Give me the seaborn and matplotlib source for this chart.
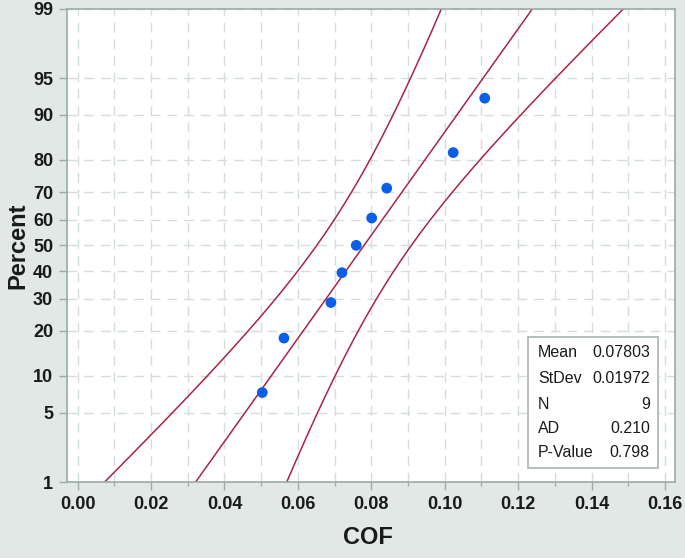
import numpy as np
import pandas as pd
import matplotlib
matplotlib.use("Agg")
import matplotlib.pyplot as plt
from matplotlib.patches import Rectangle
from matplotlib.ticker import MultipleLocator, FixedLocator
import seaborn as sns
from statistics import NormalDist

# data
cof = [0.0503, 0.0562, 0.0690, 0.0720, 0.0759, 0.0801, 0.0842, 0.1023, 0.1109]
percent = [7.4, 18.1, 28.7, 39.4, 50.0, 60.6, 71.3, 81.9, 92.6]
percent_ticks = [1, 5, 10, 20, 30, 40, 50, 60, 70, 80, 90, 95, 99]
stat_names = ["Mean", "StDev", "N", "AD", "P-Value"]
stat_values = ["0.07803", "0.01972", "9", "0.210", "0.798"]
mean, stdev, n = 0.07803, 0.01972, 9

ND = NormalDist()


def _inv(p):
    if not np.isfinite(p):
        return np.nan
    return ND.inv_cdf(min(max(p / 100.0, 1e-9), 1 - 1e-9))


def _cdf(z):
    if not np.isfinite(z):
        return np.nan
    return 100.0 * ND.cdf(z)


ppf = np.vectorize(_inv, otypes=[float])
cdf = np.vectorize(_cdf, otypes=[float])


def main():
    sns.set_theme(style="white")
    plt.rcParams["font.family"] = ["Liberation Sans", "DejaVu Sans"]

    fig = plt.figure(figsize=(6.85, 5.58), dpi=100, facecolor="#E1E8E6")
    ax = fig.add_axes([0.0978, 0.1362, 0.888, 0.8482])
    ax.set_facecolor("white")
    ax.set_yscale("function", functions=(ppf, cdf))

    # fitted line and 95% confidence bands
    z = np.linspace(-3, 3, 301)
    fit_x = mean + z * stdev
    se = stdev * np.sqrt(1.0 / n + z ** 2 / (2.0 * n))
    lines = pd.DataFrame({"z": z, "pct": cdf(z), "fit": fit_x,
                          "lo": fit_x - 1.96 * se, "hi": fit_x + 1.96 * se})
    for col in ["lo", "fit", "hi"]:
        sns.lineplot(data=lines, x=col, y="pct", ax=ax, sort=False, estimator=None,
                     color="#AA2444", linewidth=1.1)

    pts = pd.DataFrame({"COF": cof, "Percent": percent})
    sns.scatterplot(data=pts, x="COF", y="Percent", ax=ax, color="#0A5FE6",
                    s=60, edgecolor="none", zorder=5)

    ax.xaxis.set_major_locator(MultipleLocator(0.02))
    ax.xaxis.set_minor_locator(MultipleLocator(0.01))
    ax.set_xlim(-0.0029, 0.1628)
    xt = [v for v in ax.get_xticks() if -0.001 < v < 0.1625]
    ax.set_xticks(xt)
    ax.set_xticklabels([f"{v:.2f}" for v in xt])
    ax.xaxis.set_minor_locator(MultipleLocator(0.01))
    ax.set_yticks(percent_ticks)
    ax.set_yticklabels([str(v) for v in percent_ticks])
    ax.yaxis.set_minor_locator(FixedLocator([]))
    ax.set_xlim(-0.0029, 0.1628)
    ax.set_ylim(1, 99)

    ax.grid(True, which="both", axis="x", color="#D3DDDA", linestyle=(0, (7, 5)), linewidth=1)
    ax.grid(True, which="major", axis="y", color="#D3DDDA", linestyle=(0, (7, 5)), linewidth=1)
    ax.set_axisbelow(True)

    for sp in ax.spines.values():
        sp.set_color("#9AABA8")
        sp.set_linewidth(1.2)
    ax.tick_params(axis="both", which="major", direction="out", length=6, width=1,
                   color="#9AABA8", labelsize=13, labelcolor="#1A1A1A", pad=4,
                   left=True, bottom=True)
    ax.tick_params(axis="x", which="minor", direction="out", length=3, width=1,
                   color="#9AABA8", bottom=True)
    for lab in ax.get_xticklabels() + ax.get_yticklabels():
        lab.set_fontweight("bold")

    ax.set_xlabel("COF", fontsize=17, fontweight="bold", color="#1A1A1A")
    ax.set_ylabel("Percent", fontsize=17, fontweight="bold", color="#1A1A1A")
    ax.xaxis.set_label_coords(0.495, -0.094)
    ax.yaxis.set_label_coords(-0.062, 0.5)

    # statistics box
    ax.add_patch(Rectangle((0.758, 0.0296), 0.2136, 0.2764, transform=ax.transAxes,
                           facecolor="white", edgecolor="#A9B6B4", linewidth=1.2, zorder=6))
    rows_y = [0.2726, 0.2197, 0.1648, 0.1120, 0.0613]
    for name, val, yy in zip(stat_names, stat_values, rows_y):
        ax.text(0.7744, yy, name, transform=ax.transAxes, fontsize=11.5, color="#1A1A1A",
                ha="left", va="center", zorder=7)
        ax.text(0.9584, yy, val, transform=ax.transAxes, fontsize=11.5, color="#1A1A1A",
                ha="right", va="center", zorder=7)

    fig.savefig("out.png", dpi=100, facecolor=fig.get_facecolor())


if __name__ == "__main__":
    main()
